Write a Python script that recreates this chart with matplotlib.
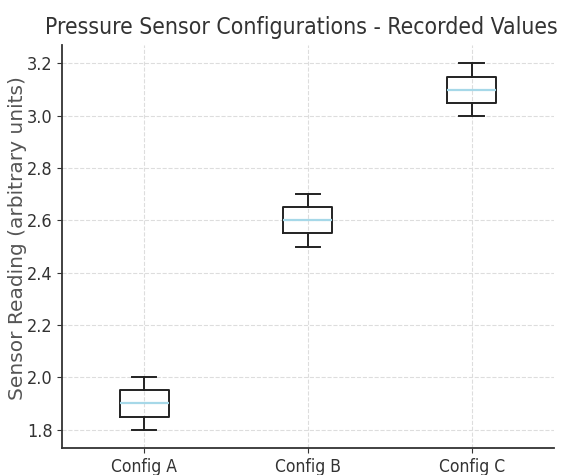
import matplotlib
matplotlib.use("Agg")
import matplotlib.pyplot as plt

# Données
configs = ["Config A", "Config B", "Config C"]
config_a = [1.80, 1.85, 1.90, 1.95, 2.00]
config_b = [2.50, 2.55, 2.60, 2.65, 2.70]
config_c = [3.00, 3.05, 3.10, 3.15, 3.20]
yticks = [1.8, 2.0, 2.2, 2.4, 2.6, 2.8, 3.0, 3.2]

DARK = "#333333"
COND = dict(family="DejaVu Sans", stretch="condensed")

fig, ax = plt.subplots(figsize=(5.66, 4.75), dpi=100)

ax.boxplot([config_a, config_b, config_c], widths=0.3,
           medianprops=dict(color="#a6d8e8", lw=1.6),
           boxprops=dict(color="#222222", lw=1.4),
           whiskerprops=dict(color="#222222", lw=1.4),
           capprops=dict(color="#222222", lw=1.4))
ax.set_xticks([1, 2, 3])
ax.set_xticklabels(configs, fontsize=12.5, **COND)
ax.set_yticks(yticks)
ax.set_yticklabels([f"{v:.1f}" for v in yticks], fontsize=13, **COND)

ax.set_title("Pressure Sensor Configurations - Recorded Values", fontsize=16.5,
             color=DARK, pad=8, x=0.487, **COND)
ax.set_ylabel("Sensor Reading (arbitrary units)", fontsize=14.5, color="#555555")
ax.yaxis.set_label_coords(-0.072, 0.52)
ax.grid(True, linestyle="--", color="#dddddd", lw=0.8)
ax.spines["top"].set_visible(False)
ax.spines["right"].set_visible(False)
for s in ("left", "bottom"):
    ax.spines[s].set_color(DARK)
    ax.spines[s].set_linewidth(1.3)
ax.tick_params(colors=DARK, labelcolor=DARK)

fig.subplots_adjust(left=0.11, right=0.978, top=0.905, bottom=0.057)
plt.savefig("out.png", dpi=100)
